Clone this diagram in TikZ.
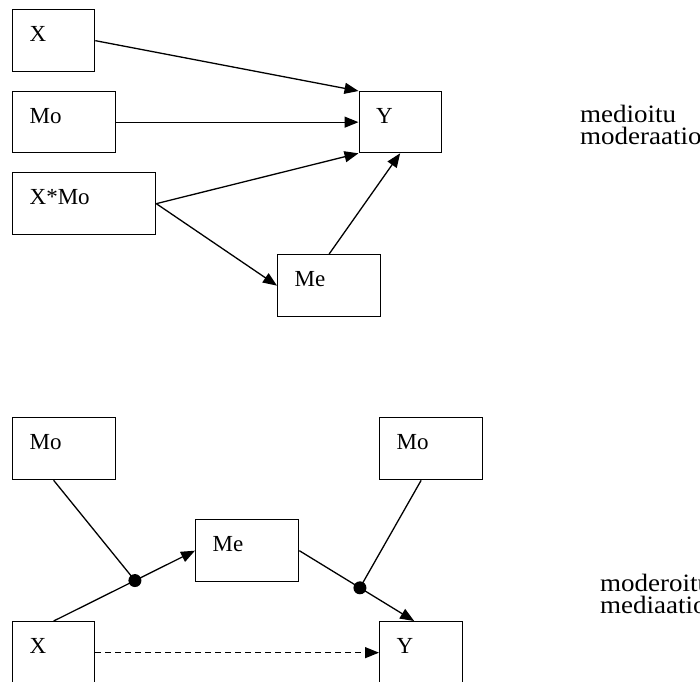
\documentclass[tikz,border=0pt]{standalone}
\usepackage{fontspec}
\setmainfont{Liberation Serif}
\newfontfamily\labfont[FakeStretch=1.08]{Liberation Serif}
\usetikzlibrary{arrows.meta}
\begin{document}
\begin{tikzpicture}[x=1pt,y=-1pt,
  bx/.style={draw, line width=1.3pt, anchor=north west, inner xsep=17pt, inner ysep=0pt,
    text height=32pt, text depth=30pt, align=left, font=\fontsize{23}{23}\selectfont},
  arr/.style={line width=1.3pt, -{Triangle[length=14pt,width=11pt]}},
  ln/.style={line width=1.3pt},
  lab/.style={anchor=base west, inner sep=0pt, font=\labfont\fontsize{25}{22}\selectfont},
  dotnode/.style={circle, fill, inner sep=0pt, minimum size=13pt}]
\useasboundingbox (0,0) rectangle (700,681);
% top diagram
\node[bx, text width=48pt] (X) at (12,9) {X};
\node[bx, text width=69pt, text depth=29pt] (Mo) at (12,91) {Mo};
\node[bx, text width=109pt] (XMo) at (12,172) {X*Mo};
\node[bx, text width=48pt, text depth=29pt] (Y) at (358.5,91) {Y};
\node[bx, text width=69pt] (Me) at (277,254) {Me};
\draw[arr] (X.east) -- (Y.north west);
\draw[arr] (Mo.east) -- (Y.west);
\draw[arr] (XMo.east) -- (Y.south west);
\draw[arr] (XMo.east) -- (Me.west);
\draw[arr] (Me.north) -- (Y.south);
\node[lab] (t1) at (580,122) {medioitu};
\node[lab] (t2) at (580,144) {moderaatio};
% bottom diagram
\node[bx, text width=69pt] (Mo1) at (12,417) {Mo};
\node[bx, text width=69pt] (Me2) at (195,519) {Me};
\node[bx, text width=48pt] (X2) at (12,621) {X};
\node[bx, text width=69pt] (Mo2) at (379,417) {Mo};
\node[bx, text width=49pt] (Y2) at (379,621) {Y};
\coordinate (Yin) at ([xshift=-7pt]Y2.north);
\path (X2.north) -- (Me2.west) coordinate[pos=0.575] (d1);
\path (Me2.east) -- (Yin) coordinate[pos=0.528] (d2);
\draw[arr] (X2.north) -- (Me2.west);
\draw[arr] (Me2.east) -- (Yin);
\draw[ln] (Mo1.south -| X2.north) -- (d1);
\draw[ln] (Mo2.south -| Y2.north) -- (d2);
\node[dotnode] (dot1) at (d1) {};
\node[dotnode] (dot2) at (d2) {};
\draw[arr, dash pattern=on 6pt off 4pt] (X2.east) -- (Y2.west);
\node[lab] (t3) at (600,591) {moderoitu};
\node[lab] (t4) at (600,613) {mediaatio};
\end{tikzpicture}
\end{document}
